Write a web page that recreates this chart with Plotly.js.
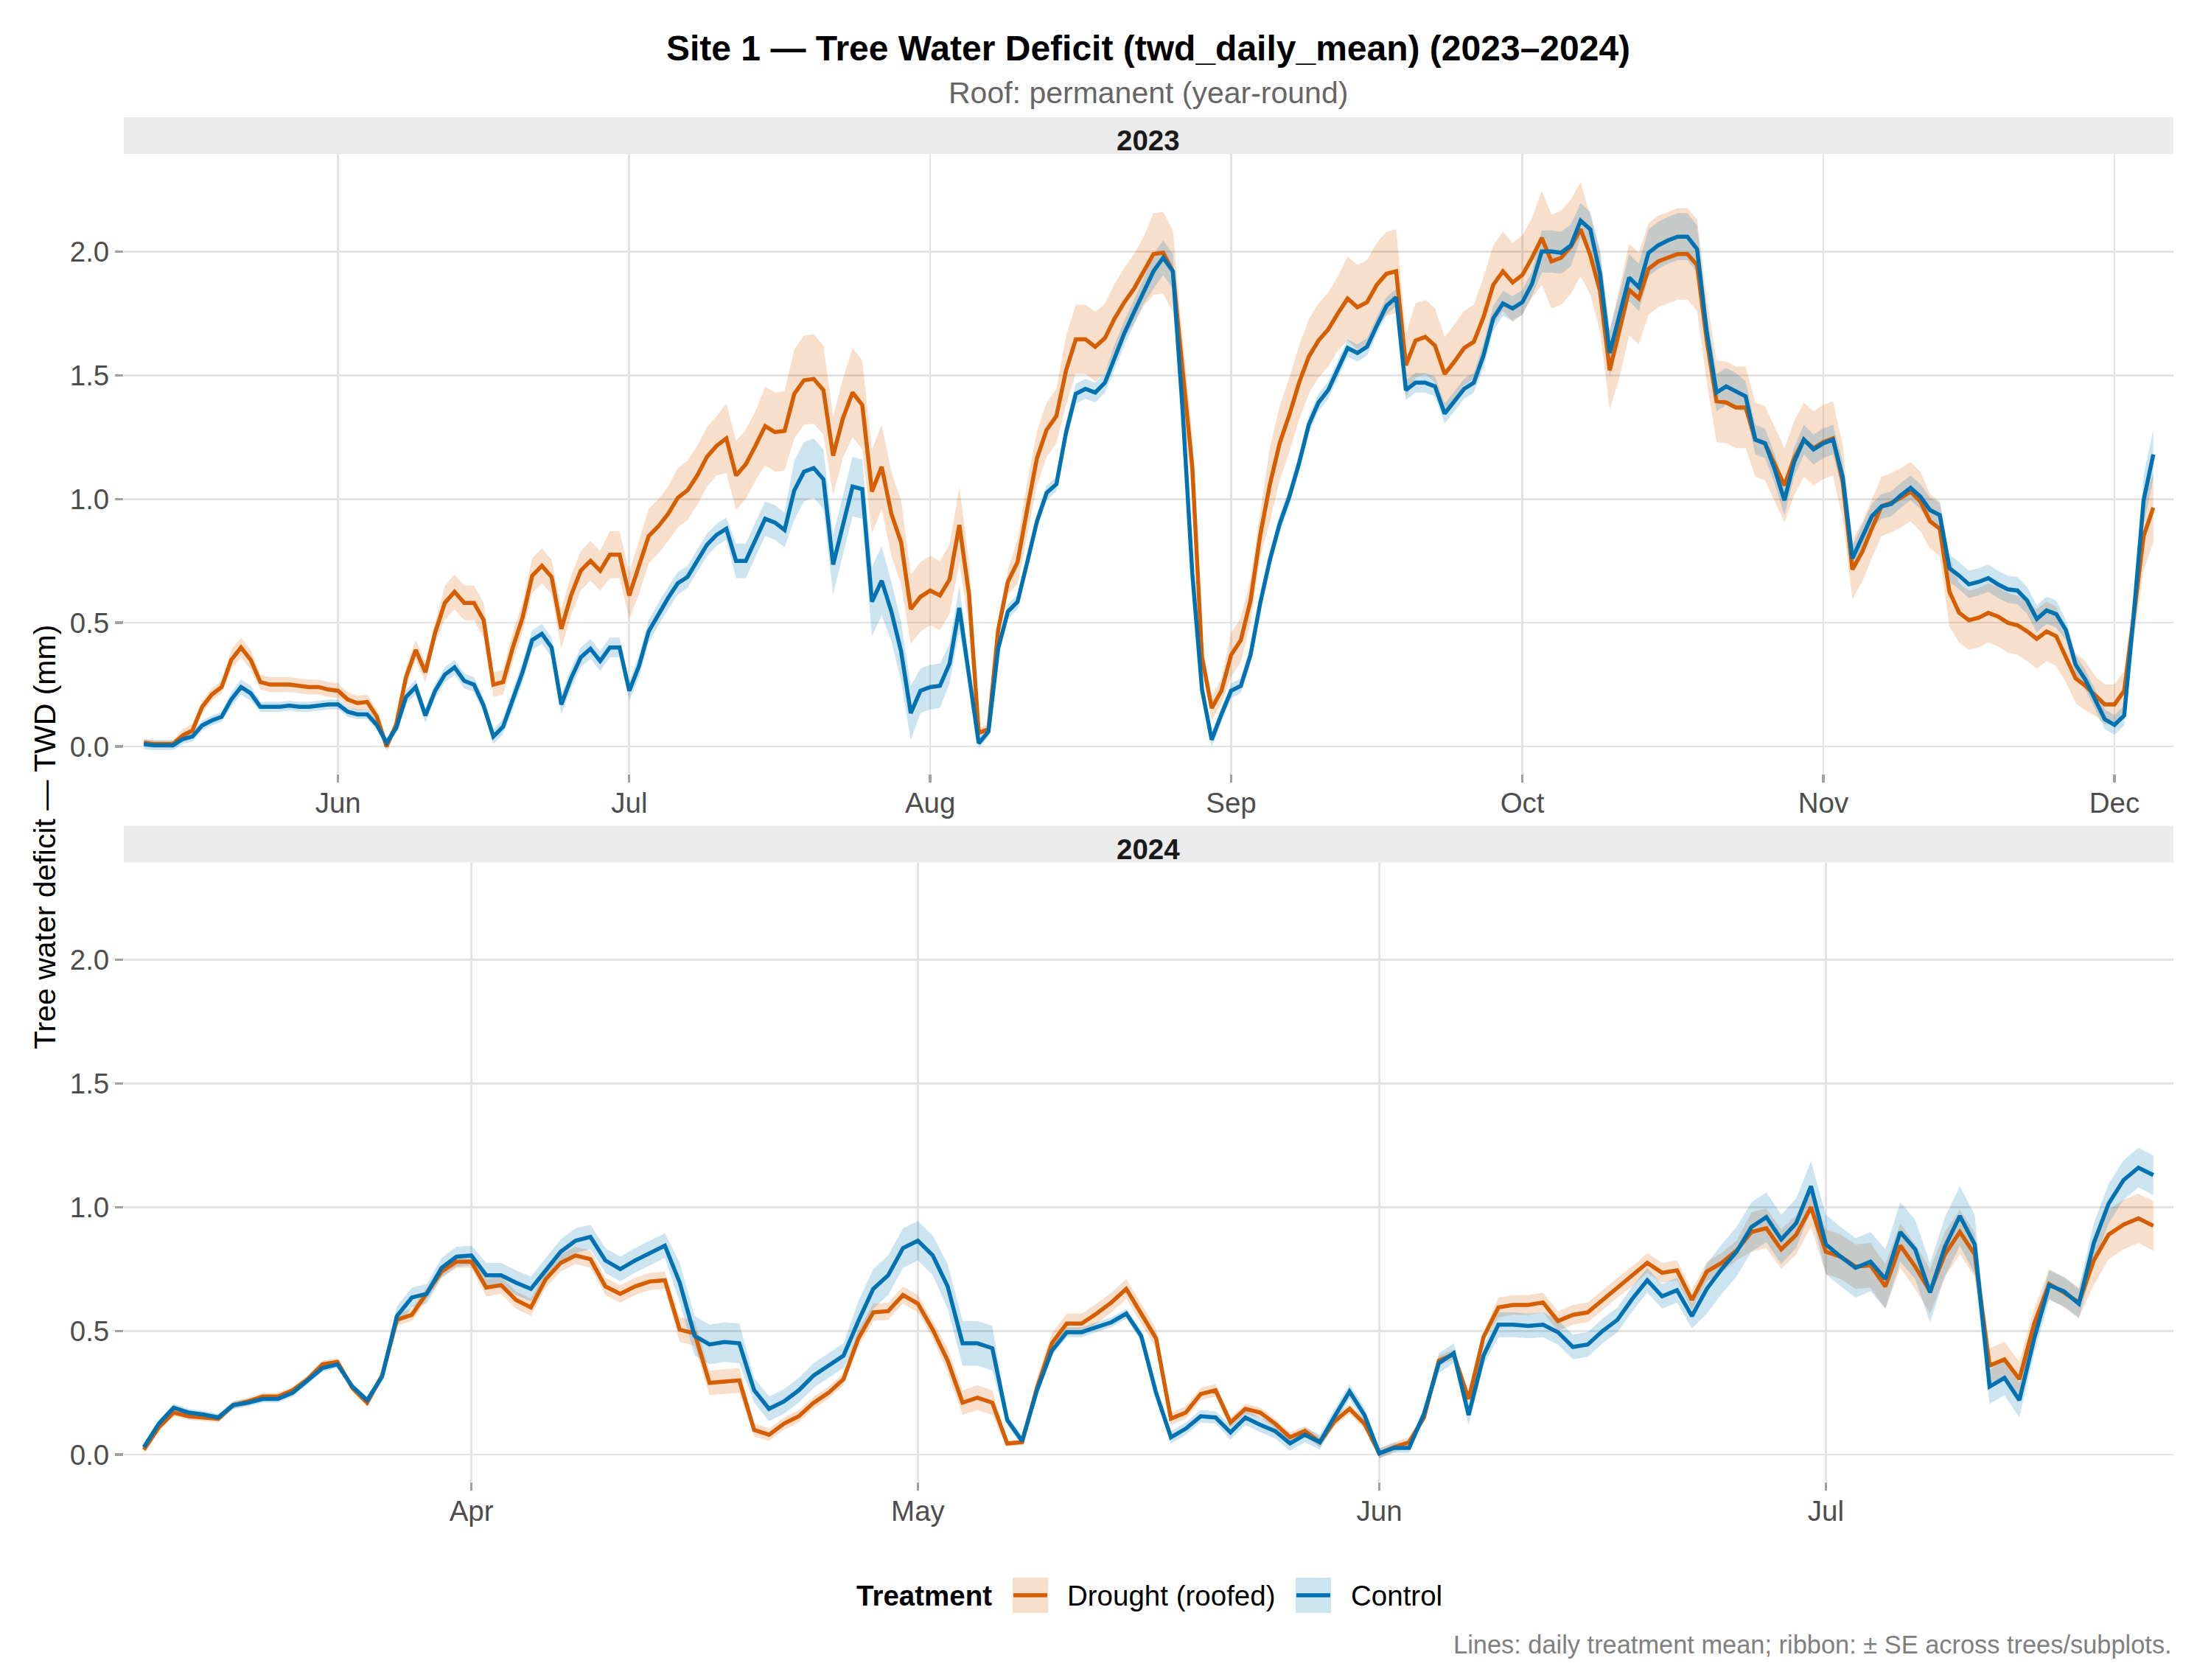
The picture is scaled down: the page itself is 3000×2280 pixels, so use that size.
<!DOCTYPE html>
<html><head><meta charset="utf-8">
<script src="https://cdn.plot.ly/plotly-3.0.1.min.js"></script>
<style>html,body{margin:0;padding:0;background:#fff}</style>
</head><body><div id="chart" style="width:3000px;height:2280px"></div>
<script>
// ---------------- DATA ----------------
const panels = ['2023', '2024'];
const treatments = ['Drought (roofed)', 'Control'];
const yTicks = [0, 0.5, 1.0, 1.5, 2.0];
const yTickLabels = ['0.0', '0.5', '1.0', '1.5', '2.0'];
const start2023 = '2023-05-12';
const start2024 = '2024-03-10';

const drought2023 = [
0.015,0.01,0.01,0.01,0.045,0.065,0.16,0.21,0.24,0.35,
0.40,0.35,0.26,0.25,0.25,0.25,0.245,0.24,0.24,0.23,
0.225,0.19,0.175,0.18,0.12,0.0,0.09,0.28,0.39,0.30,
0.46,0.58,0.625,0.58,0.58,0.51,0.25,0.26,0.40,0.52,
0.69,0.73,0.685,0.475,0.61,0.71,0.75,0.71,0.775,0.775,
0.61,0.725,0.85,0.89,0.94,1.005,1.035,1.095,1.17,1.215,
1.245,1.095,1.14,1.215,1.295,1.27,1.275,1.425,1.48,1.485,
1.44,1.175,1.325,1.43,1.38,1.03,1.13,0.94,0.825,0.555,
0.605,0.63,0.61,0.675,0.895,0.615,0.055,0.07,0.47,0.665,
0.745,0.96,1.165,1.28,1.335,1.52,1.645,1.645,1.615,1.65,
1.73,1.795,1.85,1.92,1.99,1.995,1.92,1.52,1.13,0.36,
0.155,0.225,0.37,0.43,0.59,0.855,1.06,1.225,1.34,1.47,
1.575,1.64,1.685,1.75,1.81,1.775,1.795,1.865,1.91,1.92,
1.54,1.64,1.655,1.62,1.505,1.555,1.61,1.635,1.735,1.865,
1.92,1.875,1.905,1.975,2.055,1.96,1.975,2.02,2.09,1.985,
1.84,1.52,1.675,1.845,1.81,1.93,1.96,1.975,1.99,1.99,
1.945,1.64,1.395,1.39,1.37,1.37,1.24,1.225,1.14,1.055,
1.165,1.24,1.205,1.23,1.245,1.07,0.715,0.785,0.88,0.97,
0.985,1.005,1.03,0.99,0.91,0.88,0.625,0.54,0.51,0.52,
0.54,0.525,0.50,0.49,0.465,0.435,0.465,0.445,0.36,0.275,
0.245,0.205,0.17,0.17,0.225,0.53,0.85,0.965];

const control2023 = [
0.01,0.005,0.005,0.005,0.03,0.04,0.085,0.105,0.12,0.19,
0.24,0.215,0.16,0.16,0.16,0.165,0.16,0.16,0.165,0.17,
0.17,0.14,0.13,0.13,0.087,0.015,0.075,0.20,0.24,0.125,
0.225,0.29,0.32,0.265,0.25,0.165,0.04,0.08,0.19,0.30,
0.43,0.455,0.40,0.17,0.275,0.36,0.395,0.345,0.40,0.40,
0.225,0.325,0.465,0.535,0.60,0.66,0.685,0.75,0.815,0.855,
0.88,0.75,0.75,0.835,0.92,0.905,0.875,1.035,1.11,1.125,
1.08,0.735,0.895,1.05,1.04,0.585,0.67,0.545,0.385,0.135,
0.225,0.24,0.245,0.335,0.56,0.29,0.013,0.06,0.395,0.545,
0.585,0.745,0.91,1.025,1.06,1.27,1.425,1.445,1.43,1.47,
1.575,1.67,1.755,1.84,1.92,1.975,1.92,1.36,0.70,0.23,
0.027,0.13,0.225,0.245,0.37,0.58,0.755,0.90,1.01,1.145,
1.30,1.39,1.44,1.525,1.61,1.59,1.615,1.70,1.78,1.815,
1.44,1.47,1.47,1.455,1.345,1.395,1.445,1.47,1.58,1.73,
1.79,1.77,1.795,1.87,2.0,2.0,1.995,2.025,2.125,2.09,
1.91,1.59,1.735,1.895,1.855,1.995,2.025,2.045,2.06,2.06,
2.01,1.675,1.43,1.455,1.435,1.415,1.24,1.225,1.12,0.995,
1.15,1.24,1.20,1.225,1.24,1.09,0.76,0.845,0.93,0.97,
0.98,1.015,1.045,1.01,0.955,0.935,0.72,0.69,0.655,0.665,
0.68,0.655,0.635,0.63,0.59,0.515,0.55,0.535,0.47,0.33,
0.27,0.19,0.11,0.087,0.125,0.54,0.995,1.18];

const droughtSE2023 = [
0.015,0.015,0.015,0.015,0.025,0.025,0.025,0.025,0.025,0.04,
0.04,0.04,0.03,0.03,0.03,0.03,0.03,0.03,0.03,0.03,
0.03,0.03,0.03,0.03,0.03,0.02,0.02,0.04,0.04,0.04,
0.04,0.07,0.07,0.07,0.07,0.07,0.05,0.05,0.06,0.06,
0.07,0.07,0.07,0.08,0.08,0.08,0.08,0.08,0.095,0.095,
0.095,0.11,0.11,0.11,0.11,0.12,0.12,0.12,0.12,0.12,
0.14,0.14,0.14,0.14,0.16,0.16,0.16,0.18,0.18,0.18,
0.18,0.16,0.16,0.18,0.18,0.17,0.17,0.17,0.17,0.14,
0.14,0.14,0.14,0.14,0.155,0.13,0.02,0.02,0.04,0.05,
0.09,0.11,0.11,0.11,0.11,0.14,0.14,0.14,0.14,0.14,
0.14,0.14,0.14,0.14,0.165,0.165,0.165,0.13,0.13,0.05,
0.05,0.05,0.09,0.09,0.09,0.09,0.15,0.15,0.15,0.15,
0.15,0.15,0.15,0.15,0.17,0.17,0.17,0.17,0.17,0.17,
0.13,0.15,0.15,0.15,0.15,0.15,0.15,0.15,0.16,0.16,
0.16,0.16,0.16,0.16,0.19,0.19,0.19,0.19,0.19,0.16,
0.16,0.16,0.185,0.185,0.185,0.185,0.185,0.185,0.185,0.185,
0.185,0.17,0.165,0.165,0.165,0.165,0.15,0.15,0.15,0.15,
0.15,0.15,0.15,0.15,0.15,0.15,0.12,0.12,0.12,0.12,
0.12,0.12,0.12,0.12,0.11,0.11,0.14,0.12,0.12,0.12,
0.12,0.12,0.12,0.12,0.12,0.12,0.12,0.12,0.10,0.10,
0.10,0.08,0.08,0.08,0.08,0.10,0.14,0.14];

const controlSE2023 = [
0.02,0.02,0.02,0.02,0.02,0.02,0.02,0.02,0.02,0.03,
0.03,0.03,0.02,0.02,0.02,0.02,0.02,0.02,0.02,0.02,
0.02,0.02,0.02,0.02,0.02,0.02,0.02,0.03,0.03,0.03,
0.03,0.03,0.03,0.03,0.03,0.03,0.03,0.03,0.04,0.04,
0.04,0.04,0.04,0.04,0.04,0.04,0.04,0.04,0.04,0.04,
0.04,0.045,0.045,0.045,0.045,0.045,0.045,0.045,0.045,0.045,
0.045,0.07,0.07,0.07,0.07,0.07,0.07,0.12,0.12,0.12,
0.12,0.12,0.12,0.12,0.12,0.14,0.14,0.12,0.12,0.11,
0.09,0.09,0.09,0.08,0.09,0.05,0.02,0.02,0.03,0.03,
0.03,0.03,0.03,0.03,0.03,0.04,0.04,0.04,0.04,0.04,
0.05,0.05,0.05,0.05,0.07,0.07,0.07,0.06,0.06,0.03,
0.03,0.03,0.03,0.03,0.035,0.035,0.035,0.035,0.035,0.035,
0.035,0.035,0.035,0.035,0.035,0.035,0.035,0.035,0.035,0.035,
0.04,0.04,0.04,0.04,0.04,0.04,0.04,0.04,0.05,0.05,
0.05,0.05,0.05,0.05,0.085,0.085,0.085,0.085,0.07,0.07,
0.095,0.095,0.095,0.095,0.095,0.095,0.095,0.095,0.095,0.095,
0.095,0.07,0.075,0.075,0.075,0.06,0.06,0.06,0.06,0.06,
0.06,0.06,0.06,0.06,0.06,0.06,0.05,0.05,0.05,0.05,
0.05,0.05,0.05,0.05,0.05,0.05,0.055,0.055,0.055,0.055,
0.055,0.055,0.055,0.055,0.055,0.055,0.055,0.055,0.04,0.04,
0.04,0.04,0.04,0.04,0.04,0.06,0.10,0.10];

const drought2024 = [
0.02,0.11,0.17,0.155,0.15,0.145,0.20,0.215,0.235,0.235,
0.26,0.305,0.365,0.375,0.27,0.21,0.32,0.545,0.565,0.65,
0.74,0.78,0.78,0.675,0.685,0.625,0.595,0.71,0.775,0.805,
0.79,0.68,0.65,0.68,0.70,0.705,0.505,0.49,0.29,0.295,
0.30,0.10,0.08,0.125,0.155,0.21,0.25,0.305,0.47,0.575,
0.58,0.645,0.61,0.505,0.38,0.21,0.23,0.21,0.045,0.05,
0.27,0.45,0.53,0.53,0.57,0.615,0.67,0.57,0.47,0.145,
0.17,0.245,0.26,0.13,0.185,0.17,0.125,0.07,0.095,0.05,
0.135,0.185,0.125,0.005,0.03,0.05,0.15,0.38,0.405,0.225,
0.475,0.595,0.605,0.605,0.615,0.54,0.565,0.575,0.625,0.675,
0.72,0.775,0.735,0.745,0.625,0.74,0.775,0.825,0.90,0.915,
0.83,0.888,1.0,0.82,0.80,0.76,0.765,0.68,0.845,0.76,
0.66,0.81,0.90,0.81,0.36,0.385,0.305,0.53,0.69,0.655,
0.615,0.785,0.89,0.93,0.955,0.925];

const control2024 = [
0.03,0.125,0.19,0.17,0.162,0.15,0.20,0.21,0.225,0.225,
0.25,0.30,0.35,0.365,0.275,0.22,0.315,0.56,0.635,0.65,
0.755,0.80,0.805,0.725,0.725,0.695,0.67,0.745,0.82,0.865,
0.88,0.785,0.75,0.785,0.815,0.845,0.695,0.48,0.445,0.455,
0.45,0.26,0.185,0.215,0.26,0.32,0.36,0.40,0.54,0.67,
0.725,0.835,0.865,0.805,0.68,0.45,0.45,0.43,0.14,0.055,
0.26,0.42,0.495,0.495,0.515,0.535,0.57,0.48,0.25,0.07,
0.105,0.155,0.15,0.09,0.15,0.12,0.095,0.045,0.08,0.05,
0.155,0.255,0.16,0.005,0.027,0.027,0.165,0.37,0.41,0.16,
0.40,0.525,0.525,0.52,0.525,0.495,0.435,0.445,0.50,0.545,
0.63,0.705,0.64,0.665,0.56,0.67,0.75,0.82,0.92,0.96,
0.87,0.935,1.085,0.85,0.80,0.755,0.78,0.71,0.90,0.83,
0.655,0.84,0.965,0.85,0.275,0.31,0.22,0.47,0.685,0.66,
0.61,0.855,1.015,1.11,1.16,1.13];

const droughtSE2024 = [
0.015,0.015,0.015,0.015,0.015,0.015,0.015,0.015,0.015,0.015,
0.015,0.015,0.015,0.015,0.015,0.015,0.015,0.025,0.025,0.025,
0.025,0.025,0.025,0.035,0.035,0.035,0.035,0.035,0.035,0.035,
0.035,0.035,0.035,0.035,0.035,0.035,0.05,0.05,0.05,0.05,
0.05,0.025,0.025,0.025,0.025,0.025,0.025,0.025,0.035,0.035,
0.035,0.035,0.035,0.035,0.05,0.05,0.05,0.05,0.012,0.012,
0.04,0.04,0.04,0.04,0.04,0.04,0.04,0.04,0.04,0.025,
0.025,0.025,0.025,0.02,0.02,0.02,0.02,0.02,0.02,0.02,
0.02,0.02,0.02,0.02,0.02,0.02,0.02,0.02,0.02,0.02,
0.02,0.04,0.04,0.04,0.04,0.04,0.04,0.04,0.04,0.04,
0.04,0.04,0.04,0.04,0.04,0.04,0.04,0.04,0.08,0.08,
0.08,0.08,0.08,0.09,0.09,0.09,0.09,0.09,0.09,0.09,
0.09,0.09,0.09,0.09,0.07,0.07,0.07,0.06,0.06,0.06,
0.06,0.10,0.10,0.10,0.10,0.10];

const controlSE2024 = [
0.015,0.015,0.015,0.015,0.015,0.015,0.015,0.015,0.015,0.015,
0.015,0.015,0.015,0.015,0.015,0.015,0.015,0.04,0.04,0.04,
0.04,0.04,0.04,0.05,0.05,0.05,0.05,0.05,0.05,0.05,
0.05,0.05,0.05,0.05,0.05,0.05,0.08,0.08,0.08,0.08,
0.08,0.05,0.05,0.05,0.05,0.05,0.05,0.05,0.08,0.08,
0.08,0.08,0.08,0.08,0.09,0.09,0.09,0.09,0.02,0.02,
0.02,0.02,0.02,0.02,0.02,0.02,0.02,0.02,0.02,0.025,
0.025,0.025,0.025,0.03,0.03,0.03,0.03,0.03,0.03,0.03,
0.03,0.03,0.03,0.02,0.02,0.02,0.02,0.04,0.04,0.04,
0.04,0.05,0.05,0.05,0.05,0.05,0.05,0.05,0.05,0.05,
0.05,0.05,0.05,0.05,0.05,0.10,0.10,0.10,0.10,0.10,
0.10,0.10,0.10,0.12,0.12,0.12,0.12,0.12,0.12,0.12,
0.12,0.12,0.12,0.12,0.07,0.07,0.07,0.06,0.06,0.06,
0.06,0.08,0.08,0.08,0.08,0.08];

// ---------------- STYLE / LAYOUT ----------------
const W = 3000, H = 2280;
const PL = 168, PR = 2949;
const P1 = {top: 209, bot: 1050};
const P2 = {top: 1170.5, bot: 2011};
const STRIP_H = 50;
const FONT = 'Liberation Sans, Arial, Helvetica, sans-serif';
const lineCol = ['#D55E00', '#0072B2'];
const fillCol = ['rgba(213,94,0,0.2)', 'rgba(0,114,178,0.2)'];
const px = x => x / W;
const py = y => 1 - y / H;

function dayseq(start, n) {
  const t0 = Date.parse(start + 'T00:00:00Z');
  const out = [];
  for (let i = 0; i < n; i++) out.push(new Date(t0 + i * 86400000).toISOString().slice(0, 10));
  return out;
}
function fmt(t) { return new Date(t).toISOString().replace('T', ' ').slice(0, 19); }
function padRange(dates) {
  const a = Date.parse(dates[0] + 'T00:00:00Z'), b = Date.parse(dates[dates.length - 1] + 'T00:00:00Z');
  const p = (b - a) * 0.01;
  return [fmt(a - p), fmt(b + p)];
}

const series = [
  {x: dayseq(start2023, drought2023.length), m: [drought2023, control2023], se: [droughtSE2023, controlSE2023], xa: 'x', ya: 'y'},
  {x: dayseq(start2024, drought2024.length), m: [drought2024, control2024], se: [droughtSE2024, controlSE2024], xa: 'x2', ya: 'y2'}
];

const traces = [];
series.forEach(s => {
  for (let k = 0; k < 2; k++) {
    const up = s.m[k].map((v, i) => v + s.se[k][i]);
    const lo = s.m[k].map((v, i) => v - s.se[k][i]);
    traces.push({x: s.x, y: up, xaxis: s.xa, yaxis: s.ya, type: 'scatter', mode: 'lines',
      line: {width: 0, color: fillCol[k]}, hoverinfo: 'skip', showlegend: false});
    traces.push({x: s.x, y: lo, xaxis: s.xa, yaxis: s.ya, type: 'scatter', mode: 'lines',
      line: {width: 0, color: fillCol[k]}, fill: 'tonexty', fillcolor: fillCol[k], hoverinfo: 'skip', showlegend: false});
  }
  for (let k = 0; k < 2; k++) {
    traces.push({x: s.x, y: s.m[k], xaxis: s.xa, yaxis: s.ya, type: 'scatter', mode: 'lines',
      name: treatments[k], line: {width: 5.5, color: lineCol[k]}, showlegend: false});
  }
});

function xaxisDef(range, anchor) {
  return {
    domain: [px(PL), px(PR)], anchor: anchor, type: 'date', range: range,
    dtick: 'M1', tick0: '2000-01-01', tickformat: '%b',
    showgrid: true, gridcolor: '#E3E3E3', gridwidth: 2.7, zeroline: false, showline: false,
    ticks: 'outside', ticklen: 11, tickwidth: 3.3, tickcolor: '#A0A0A0', ticklabelstandoff: -5,
    tickfont: {family: FONT, size: 38.5, color: '#4D4D4D'}, automargin: false, fixedrange: true
  };
}
function yaxisDef(p, anchor) {
  return {
    domain: [py(p.bot), py(p.top)], anchor: anchor, range: [-0.11, 2.394],
    tickvals: yTicks, ticktext: yTickLabels,
    showgrid: true, gridcolor: '#E3E3E3', gridwidth: 2.7, zeroline: false, showline: false,
    ticks: 'outside', ticklen: 11, tickwidth: 3.3, tickcolor: '#A0A0A0',
    tickfont: {family: FONT, size: 38.5, color: '#4D4D4D'}, automargin: false, fixedrange: true
  };
}

const shapes = [];
const annotations = [];
[P1, P2].forEach((p, i) => {
  shapes.push({type: 'rect', xref: 'paper', yref: 'paper', x0: px(PL), x1: px(PR),
    y0: py(p.top), y1: py(p.top - STRIP_H), fillcolor: '#EBEBEB', line: {width: 0}, layer: 'below'});
  annotations.push({xref: 'paper', yref: 'paper', x: px((PL + PR) / 2), y: py(p.top - STRIP_H / 2 + 7),
    text: '<b>' + panels[i] + '</b>', showarrow: false, xanchor: 'center', yanchor: 'middle',
    font: {family: FONT, size: 38.5, color: '#1A1A1A'}});
});

annotations.push({xref: 'paper', yref: 'paper', x: px((PL + PR) / 2), y: py(66), showarrow: false,
  xanchor: 'center', yanchor: 'middle',
  text: '<b>Site 1 — Tree Water Deficit (twd_daily_mean) (2023–2024)</b>',
  font: {family: FONT, size: 48, color: '#000000'}});
annotations.push({xref: 'paper', yref: 'paper', x: px((PL + PR) / 2), y: py(126), showarrow: false,
  xanchor: 'center', yanchor: 'middle', text: 'Roof: permanent (year-round)',
  font: {family: FONT, size: 41, color: '#666666'}});
annotations.push({xref: 'paper', yref: 'paper', x: px(61), y: py(1136), showarrow: false,
  xanchor: 'center', yanchor: 'middle', textangle: -90, text: 'Tree water deficit — TWD (mm)',
  font: {family: FONT, size: 41, color: '#000000'}});
const LEG_Y = 2165;
annotations.push({xref: 'paper', yref: 'paper', x: px(1160), y: py(LEG_Y), showarrow: false,
  xanchor: 'left', yanchor: 'middle', text: '<b>Treatment</b>',
  font: {family: FONT, size: 38.5, color: '#000000'}});
const keyX = [1374, 1758], textX = [1446, 1831];
for (let k = 0; k < 2; k++) {
  shapes.push({type: 'rect', xref: 'paper', yref: 'paper', x0: px(keyX[k]), x1: px(keyX[k] + 48),
    y0: py(LEG_Y + 24), y1: py(LEG_Y - 24), fillcolor: fillCol[k], line: {width: 0}});
  shapes.push({type: 'line', xref: 'paper', yref: 'paper', x0: px(keyX[k] + 1), x1: px(keyX[k] + 47),
    y0: py(LEG_Y), y1: py(LEG_Y), line: {color: lineCol[k], width: 5.5}});
  annotations.push({xref: 'paper', yref: 'paper', x: px(textX[k]), y: py(LEG_Y), showarrow: false,
    xanchor: 'left', yanchor: 'middle', text: treatments[k],
    font: {family: FONT, size: 38.5, color: '#000000'}});
}
annotations.push({xref: 'paper', yref: 'paper', x: px(2949), y: py(2232), showarrow: false,
  xanchor: 'right', yanchor: 'middle', text: 'Lines: daily treatment mean; ribbon: ± SE across trees/subplots.',
  font: {family: FONT, size: 34.4, color: '#808080'}});

const layout = {
  width: W, height: H, margin: {l: 0, r: 0, t: 0, b: 0},
  paper_bgcolor: '#FFFFFF', plot_bgcolor: '#FFFFFF', showlegend: false,
  font: {family: FONT, color: '#4D4D4D'},
  xaxis: xaxisDef(padRange(series[0].x), 'y'),
  yaxis: yaxisDef(P1, 'x'),
  xaxis2: xaxisDef(padRange(series[1].x), 'y2'),
  yaxis2: yaxisDef(P2, 'x2'),
  shapes: shapes, annotations: annotations
};

Plotly.newPlot('chart', traces, layout, {staticPlot: true, displayModeBar: false});
</script></body></html>
